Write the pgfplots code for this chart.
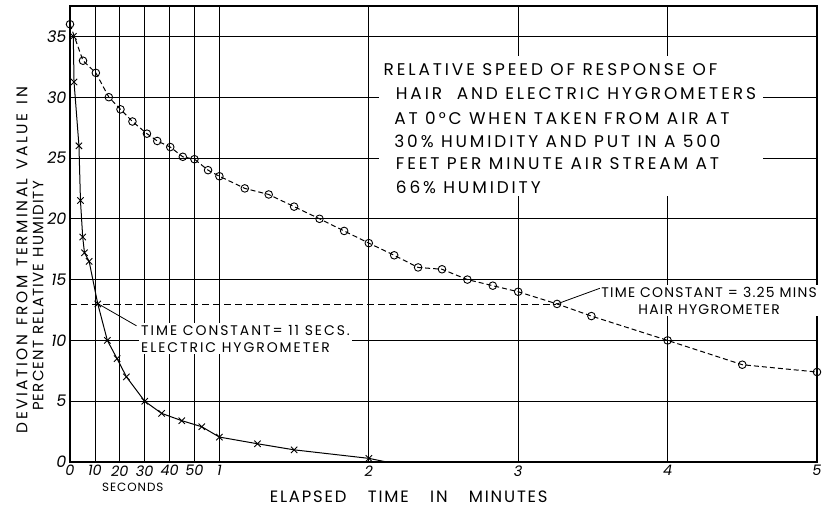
\documentclass[border=0pt]{standalone}
\usepackage{fontspec}
\setmainfont{Poppins}
\newfontfamily\ltTitle[LetterSpace=17]{Poppins}
\newfontfamily\ltA[LetterSpace=11]{Poppins}
\newfontfamily\ltEl[LetterSpace=14]{Poppins}
\newfontfamily\ltHair[LetterSpace=9]{Poppins}
\newfontfamily\ltY[LetterSpace=16]{Poppins}
\newfontfamily\ltC[LetterSpace=8]{Poppins}
\usepackage{pgfplots}
\pgfplotsset{compat=1.18}
\begin{document}
\begin{tikzpicture}
\begin{axis}[
  name=ax,
  at={(0,0)}, anchor=south west,
  width=747bp, height=456bp, scale only axis,
  xmin=0, xmax=5, ymin=0, ymax=37.5,
  xtick={0,0.1666667,0.3333333,0.5,0.6666667,0.8333333,1,2,3,4,5},
  xticklabels={0,10,20,30,40,50,1,2,3,4,5},
  ytick={0,5,...,35},
  grid=major,
  major grid style={black, line width=0.7bp},
  axis line style={black, line width=1.3bp},
  major tick length=0pt,
  tick style={draw=none},
  /pgf/number format/assume math mode=true,
  xticklabel style={font=\fontsize{14.5}{14.5}\selectfont\itshape},
  yticklabel style={font=\fontsize{16}{16}\selectfont\itshape},
  clip=false,
]
% time-constant line
\addplot[black, line width=0.8bp, dash pattern=on 7bp off 4bp] coordinates {(0,13) (3.25,13)};

% hair hygrometer
\addplot[black, line width=1bp, dash pattern=on 5bp off 3bp, mark=o, mark size=3.8bp,
  mark options={solid, fill=white, line width=0.9bp}] coordinates {
(0,36) (0.087,33) (0.173,32) (0.26,30) (0.338,29) (0.418,28) (0.515,27) (0.584,26.4)
(0.671,25.9) (0.755,25.1) (0.833,24.9) (0.924,24) (1.0,23.5) (1.17,22.5) (1.33,22)
(1.5,21) (1.67,20) (1.835,19) (2.0,18) (2.17,17) (2.33,16) (2.49,15.85) (2.66,15)
(2.83,14.5) (3.0,14) (3.26,13) (3.49,12) (4.0,10) (4.5,8) (5.0,7.4)};

% electric hygrometer
\addplot[black, line width=1bp, mark=x, mark size=4.5bp, mark options={solid, line width=0.9bp}] coordinates {
(0.022,35) (0.027,31.25) (0.06,26) (0.07,21.5) (0.085,18.5) (0.097,17.2) (0.128,16.5)
(0.186,13) (0.25,10) (0.315,8.5) (0.378,7) (0.5,5) (0.613,4) (0.748,3.4) (0.882,2.9)
(1.0,2.05) (1.255,1.5) (1.5,1.0) (2.0,0.3)};
\addplot[black, line width=1bp] coordinates {(2.0,0.3) (2.12,0)};

% title box
\fill[white] (axis cs:2.07,21.9) rectangle (axis cs:4.64,33.4);
\begin{scope}[every node/.style={anchor=west, inner sep=0pt, font=\ltTitle\fontsize{17}{17}\selectfont}]
\node at (axis cs:2.098,32.3) {RELATIVE SPEED OF RESPONSE OF};
\node at (axis cs:2.18,30.3) {HAIR \ AND ELECTRIC HYGROMETERS};
\node at (axis cs:2.17,28.3) {AT 0\textdegree C WHEN TAKEN FROM AIR AT};
\node at (axis cs:2.17,26.4) {30\% HUMIDITY AND PUT IN A 500};
\node at (axis cs:2.18,24.5) {FEET PER MINUTE AIR STREAM AT};
\node at (axis cs:2.18,22.6) {66\% HUMIDITY};
\end{scope}

% electric annotation
\draw[black, line width=0.8bp] (axis cs:0.19,13) -- (axis cs:0.445,11.2);
\node[anchor=west, fill=white, inner sep=2bp, align=left, font=\ltEl\fontsize{14}{17}\selectfont]
  at (axis cs:0.462,10.15) {TIME CONSTANT= 11 SECS.\\ELECTRIC HYGROMETER};

% hair annotation
\draw[black, line width=0.8bp] (axis cs:3.26,13) -- (axis cs:3.55,14.3);
\node[anchor=west, fill=white, inner sep=1.5bp, align=center, font=\ltHair\fontsize{14}{17}\selectfont]
  at (axis cs:3.545,13.27) {TIME CONSTANT = 3.25 MINS\\HAIR HYGROMETER};

% axis labels
\node[font=\ltC\fontsize{12}{12}\selectfont] at (axis cs:0.42,0) [yshift=-25bp] {SECONDS};
\node[font=\ltA\fontsize{16.5}{16.5}\selectfont] at (axis cs:2.267,0) [yshift=-35bp]
  {ELAPSED\hspace{1.3em}TIME\hspace{1.3em}IN\hspace{1.3em}MINUTES};
\node[rotate=90, font=\ltY\fontsize{15.5}{15.5}\selectfont] at (axis cs:-0.321,16.6)
  {DEVIATION\hspace{0.6em}FROM\hspace{0.6em}TERMINAL\hspace{0.6em}VALUE\hspace{0.6em}IN};
\node[rotate=90, font=\ltC\fontsize{15}{15}\selectfont] at (axis cs:-0.214,13.65)
  {PERCENT\hspace{0.4em}RELATIVE\hspace{0.4em}HUMIDITY};
\end{axis}
\pgfresetboundingbox
\path[use as bounding box] (-70bp,-45bp) rectangle (758bp,462bp);
\end{tikzpicture}
\end{document}
